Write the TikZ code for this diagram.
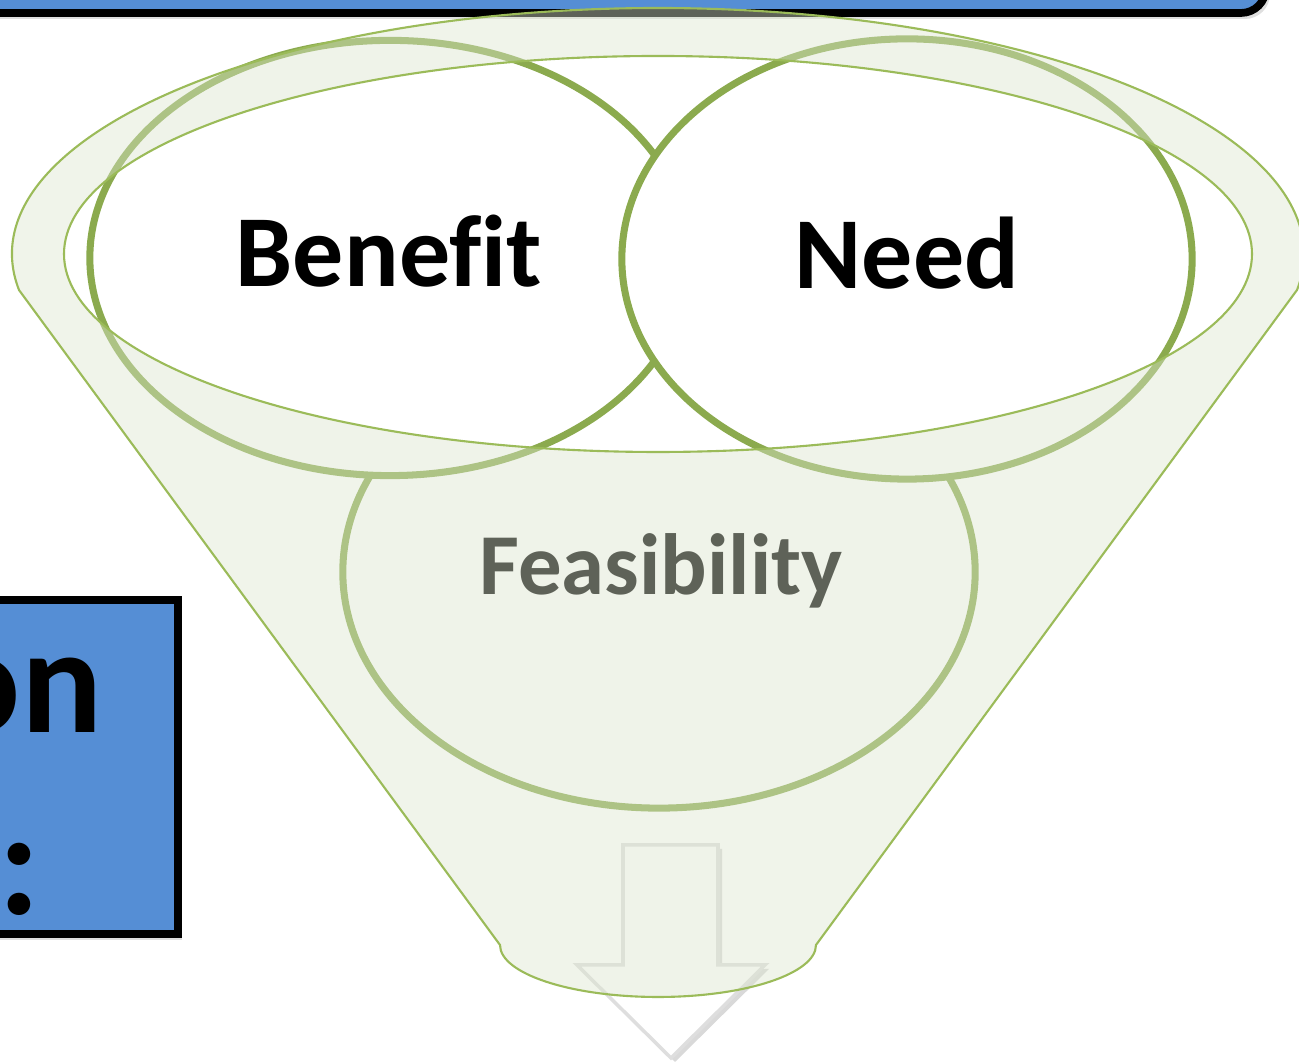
\documentclass[tikz,border=0pt]{standalone}
\usepackage{fontspec}
\setmainfont{Carlito}[Ligatures=CommonOff]
\usetikzlibrary{shadows, shapes, positioning}
\definecolor{boxblue}{HTML}{558ED5}
\definecolor{ringgreen}{HTML}{8BAA4E}
\definecolor{edgegreen}{HTML}{9BBB59}
\definecolor{funnelgreen}{RGB}{220,229,206}

\begin{document}
\begin{tikzpicture}[x=0.01cm,y=0.01cm,
  ring/.style={ellipse, draw=ringgreen, line width=2pt, fill=white, inner sep=0pt},
  word/.style={font=\fontsize{29}{34}\selectfont\bfseries, inner sep=0pt, anchor=base},
  bigword/.style={font=\fontsize{43}{50}\selectfont\bfseries, inner sep=0pt},
  bluebox/.style={fill=boxblue, draw=black, line width=2.2pt, drop shadow={opacity=.25, shadow xshift=.04cm, shadow yshift=-.06cm}}]
\useasboundingbox (0,0) rectangle (1299,1064);
\clip (0,0) rectangle (1299,1064);
\draw[bluebox, rounded corners=.25cm] (-60,1051) rectangle (1266,1200);
\draw[bluebox] (-60,130) rectangle (178,464);
\node[bigword, anchor=base east] (on) at (103,331) {on};
\node[bigword, anchor=base west] (colon) at (-2,149) {:};

\node[ring, minimum width=6.32cm, minimum height=4.72cm] (feasibility) at (659,492) {};
\node[word, font=\fontsize{24.7}{30}\selectfont\bfseries] (feasibilitylbl) at (661,469) {Feasibility};
\node[ring, minimum width=6cm, minimum height=4.35cm] (benefit) at (390,806) {};
\node[ring, minimum width=5.7cm, minimum height=4.4cm] (need) at (907,805) {};
\node[word] (benefitlbl) at (389,777) {Benefit};
\node[word] (needlbl) at (907,775) {Need};

\draw[fill=white, draw=black!13, line width=1pt, line join=miter,
  drop shadow={opacity=.3, shadow xshift=.04cm, shadow yshift=-.04cm}]
  (623,219) -- (718,219) -- (718,99) -- (765,99) -- (671,6) -- (577,99) -- (623,99) -- cycle;

\path[fill=funnelgreen, fill opacity=.43, draw=edgegreen, line width=.6pt, even odd rule]
  ([shift={(658,810)}]188.42:646 and 246) arc[start angle=188.42, end angle=-8.42, x radius=646, y radius=246]
  -- (816,119) arc[start angle=0, end angle=-180, x radius=158, y radius=52] -- cycle
  (658,810) ellipse[x radius=594, y radius=198];
\end{tikzpicture}
\end{document}
